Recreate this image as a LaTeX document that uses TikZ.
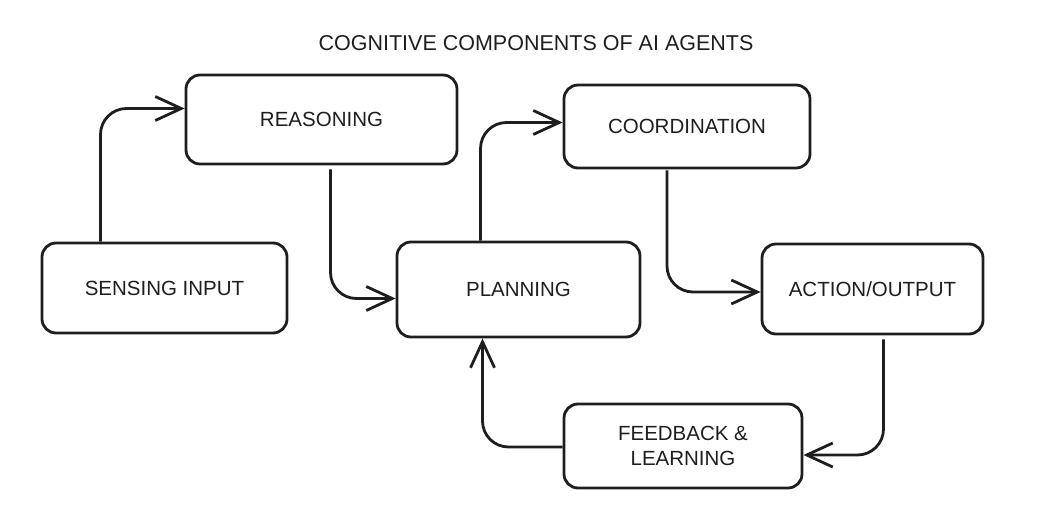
\documentclass[tikz,border=0pt]{standalone}
\usepackage{fontspec}
\setmainfont{Liberation Sans}
\usetikzlibrary{arrows.meta}
\definecolor{ink}{HTML}{1E1E1E}
\tikzset{
  box/.style={draw=ink, text=ink, line width=2.8pt, rounded corners=14pt, inner sep=0pt, align=center, font=\fontsize{20.5}{25}\selectfont},
  link/.style={draw=ink, line width=2.8pt, rounded corners=26pt, ->},
}
\begin{document}
\begin{tikzpicture}[x=1pt,y=-1pt,>={Straight Barb[length=26pt,width=24pt]}]
  \useasboundingbox (0,0) rectangle (1052,530);
  \node[text=ink, font=\fontsize{21.5}{24}\selectfont] (title) at (536,43) {COGNITIVE COMPONENTS OF AI AGENTS};
  \node[box, minimum width=271pt, minimum height=89pt] (reason) at (321.5,119.5) {REASONING};
  \node[box, minimum width=245pt, minimum height=90pt] (sense) at (164.5,288) {SENSING INPUT};
  \node[box, minimum width=243pt, minimum height=95pt] (plan) at (518.5,289.5) {PLANNING};
  \node[box, minimum width=246pt, minimum height=83pt] (coord) at (687,126.5) {COORDINATION};
  \node[box, minimum width=221pt, minimum height=90pt] (act) at (872.5,289) {ACTION/OUTPUT};
  \node[box, minimum width=238pt, minimum height=84pt] (fb) at (683,446) {FEEDBACK \&\\LEARNING};
  \draw[link] ([xshift=-64pt]sense.north) |- ([yshift=11pt]reason.west);
  \draw[link] ([xshift=9pt,yshift=-4pt]reason.south) |- ([yshift=-9pt]plan.west);
  \draw[link] ([xshift=-38pt]plan.north) |- ([yshift=4pt]coord.west);
  \draw[link] ([xshift=-20pt,yshift=-1pt]coord.south) |- ([yshift=-3pt]act.west);
  \draw[link] ([xshift=11pt,yshift=-4pt]act.south) |- ([yshift=-9pt]fb.east);
  \draw[link] ([yshift=-1pt]fb.west) -| ([xshift=-36pt]plan.south);
\end{tikzpicture}
\end{document}
